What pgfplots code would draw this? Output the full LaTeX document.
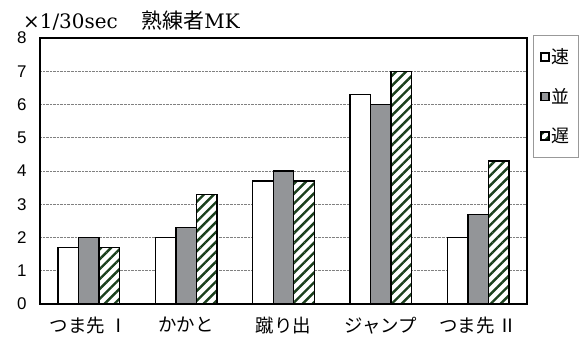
\documentclass[border=0pt]{standalone}
\usepackage{fontspec}
\setmainfont{Liberation Serif}
\newfontfamily\jp{Noto Sans CJK JP}
\newfontfamily\arial{Liberation Sans}
\newfontfamily\wideserif{DejaVu Serif}
\usepackage{pgfplots}
\pgfplotsset{compat=1.18}
\usetikzlibrary{patterns.meta}
\definecolor{hatch}{HTML}{1A3F1C}
\definecolor{midgray}{HTML}{939598}
\begin{document}
\begin{tikzpicture}
\path[use as bounding box] (0,0) rectangle (581bp,349bp);
\begin{axis}[
  at={(40bp,45bp)}, anchor=south west,
  scale only axis, width=487bp, height=266bp,
  xmin=-0.5, xmax=4.5, ymin=0, ymax=8,
  ybar=0pt, bar width=20.5bp,
  xtick={0,1,2,3,4},
  xticklabels={つま先 Ⅰ,かかと,蹴り出,ジャンプ,つま先 Ⅱ},
  x tick label style={font=\jp\fontsize{18.5}{18.5}\selectfont, yshift=-5bp},
  major x tick style={draw=none},
  extra x ticks={0.5,1.5,2.5,3.5},
  extra x tick labels={},
  extra x tick style={grid=none, major tick length=4bp, tick style={draw=gray!70!black, line width=0.6pt}},
  ytick={0,...,8},
  y tick label style={font=\arial\fontsize{17}{17}\selectfont, xshift=-10bp},
  /pgf/number format/assume math mode=true,
  major y tick style={draw=none},
  ymajorgrids,
  y grid style={densely dotted, gray, line width=0.6pt},
  axis line style={line width=1.6pt, black},
  legend style={at={(1.012,1.01)}, anchor=north west, draw=gray!80, line width=0.5pt,
     font=\jp\fontsize{18}{18}\selectfont, row sep=19bp, inner xsep=7bp, inner ysep=11bp,
     /tikz/every even column/.append style={column sep=0bp}},
  legend cell align=left,
  legend image code/.code={\draw[#1, line width=1.6pt] (0bp,-4bp) rectangle (8bp,4bp);},
  clip=false,
]
\addplot[fill=white, draw=black, line width=1.4pt] coordinates {(0,1.7) (1,2.0) (2,3.7) (3,6.3) (4,2.0)};
\addplot[fill=midgray, draw=black, line width=1.4pt] coordinates {(0,2.0) (1,2.3) (2,4.0) (3,6.0) (4,2.7)};
\addplot[fill=white, draw=black, line width=1.4pt, postaction={pattern={Lines[angle=45,distance=7bp,line width=2.4bp]}, pattern color=hatch}] coordinates {(0,1.7) (1,3.3) (2,3.7) (3,7.0) (4,4.3)};
\legend{速,並,遅}
\node[anchor=base west, inner sep=0pt, font=\wideserif\fontsize{20}{20}\selectfont] at (axis description cs:-0.035,1.0376) {×1/30sec\hspace{1.2em}{\jp\fontsize{21}{21}\selectfont 熟練者}MK};
\end{axis}
\end{tikzpicture}
\end{document}
